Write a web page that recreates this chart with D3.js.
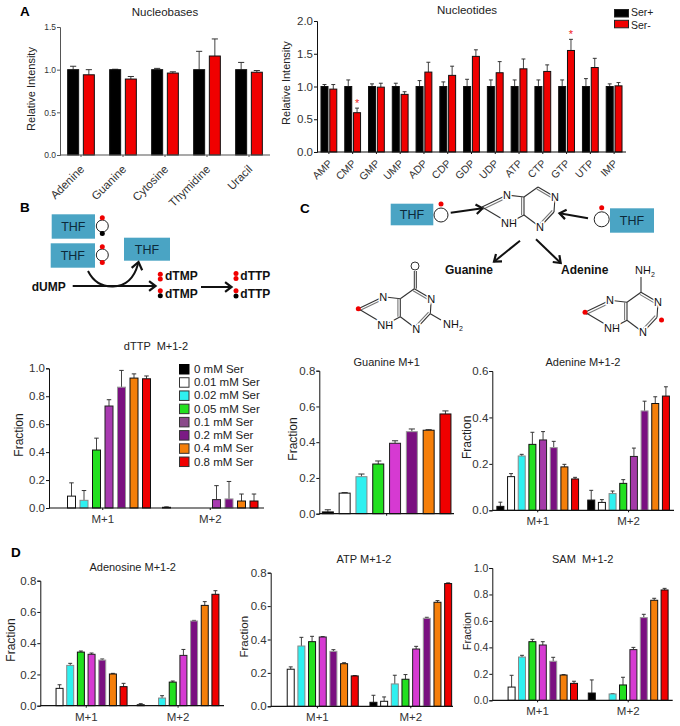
<!DOCTYPE html>
<html>
<head>
<meta charset="utf-8">
<script src="https://cdn.jsdelivr.net/npm/d3@7"></script>
<style>
  html, body { margin: 0; padding: 0; background: #fff; }
  text { font-family: "Liberation Sans", Arial, sans-serif; fill: #222; }
  .atom { paint-order: stroke; stroke: #fff; stroke-width: 3px; fill: #111; }
</style>
</head>
<body>
<script>
// panel A
const nucleobases = ['Adenine', 'Guanine', 'Cytosine', 'Thymidine', 'Uracil'];
const serStates = ['Ser+', 'Ser-'];
const baseValues = [[1.0, 0.94], [1.0, 0.89], [1.0, 0.96], [1.0, 1.16], [1.0, 0.97]];
const baseTops = [[1.04, 1.0], [1.005, 0.92], [1.015, 0.975], [1.215, 1.36], [1.085, 0.99]];

const nucleotides = ['AMP', 'CMP', 'GMP', 'UMP', 'ADP', 'CDP', 'GDP', 'UDP', 'ATP', 'CTP', 'GTP', 'UTP', 'IMP'];
const nucValues = [[1, .96], [1, .6], [1, .99], [1, .88], [1, 1.22], [1, 1.17], [1, 1.46], [1, 1.21], [1, 1.27], [1, 1.23], [1, 1.55], [1, 1.29], [1, 1.01]];
const nucTops = [[1.03, 1.03], [1.1, .67], [1.04, 1.05], [1.05, .92], [1.09, 1.37], [1.07, 1.31], [1.11, 1.56], [1.1, 1.38], [1.1, 1.42], [1.1, 1.33], [1.1, 1.72], [1.12, 1.43], [1.04, 1.06]];
const nucStars = ['CMP', 'GTP'];

// labelling panels
const doses = ['0 mM Ser', '0.01 mM Ser', '0.02 mM Ser', '0.05 mM Ser', '0.1 mM Ser', '0.2 mM Ser', '0.4 mM Ser', '0.8 mM Ser'];
const isotopes = ['M+1', 'M+2'];

const dttpValues = [[0, .085, .055, .415, .73, .865, .93, .925], [.005, 0, 0, 0, .06, .065, .05, .05]];
const dttpTops = [[0, .18, .125, .5, .775, .985, .96, .945], [.008, 0, 0, 0, .16, .19, .1, .1]];

const guanineValues = [[.01, .115, .207, .278, .394, .459, .467, .558]];
const guanineTops = [[.022, .118, .222, .295, .408, .474, .47, .575]];

const adenineValues = [[.017, .145, .234, .284, .303, .27, .187, .135], [.044, .034, .072, .116, .232, .428, .46, .492]];
const adenineTops = [[.035, .158, .241, .336, .339, .297, .198, .142], [.086, .046, .083, .132, .268, .47, .489, .532]];

const adenosineValues = [[0, .111, .258, .343, .329, .292, .203, .122], [.006, 0, .049, .151, .322, .542, .642, .713]];
const adenosineTops = [[0, .134, .271, .35, .337, .299, .207, .143], [.013, 0, .064, .158, .36, .546, .666, .736]];

const atpValues = [[0, .222, .361, .387, .415, .329, .255, .182], [.024, .03, .134, .162, .343, .527, .623, .735]];
const atpTops = [[0, .236, .413, .419, .417, .339, .261, .184], [.066, .056, .186, .19, .359, .533, .633, .739]];

const samValues = [[0, .1, .327, .443, .418, .295, .191, .128], [.055, 0, .048, .116, .383, .625, .756, .834]];
const samTops = [[0, .189, .34, .461, .443, .325, .194, .144], [.154, 0, .05, .174, .4, .65, .771, .846]];

const serColors = ['#000', '#f00000'];
const legendColors = ['#000', '#fff', '#2ff0f0', '#22e01f', '#8a4a8a', '#7b1a85', '#f57f0a', '#f00000'];
const doseColors = m => ['#000', '#fff', '#2ff0f0', '#22e01f', m, '#7a1080', '#f57f0a', '#f00000'];
const doseStrokes = ['#111', '#111', '#888', '#111', '#222', '#999', '#111', '#111'];

const svg = d3.select('body').append('svg').attr('width', 680).attr('height', 726).style('display', 'block');

function label (txt, x, y, size, opts = {}) {
    const t = svg.append('text').attr('x', x).attr('y', y).style('font-size', `${size}px`)
        .style('text-anchor', opts.anchor || 'start').style('font-weight', opts.bold ? 'bold' : null)
        .style('white-space', 'pre').text(txt);
    if (opts.rotate) t.attr('transform', `rotate(${opts.rotate},${x},${y})`);
    if (opts.fill) t.style('fill', opts.fill);
    return t;
}

// every bar panel goes through here
function barChart (c) {
    const g = svg.append('g');
    const xEnd = c.xEnd || c.right;
    const x0 = d3.scaleBand().domain(c.groups).range([c.left, xEnd]);
    const n = c.series.length;
    const pad = 1 - c.barW / c.step;
    const x1 = d3.scaleBand().domain(c.series).range([0, c.step * n]).paddingInner(pad).paddingOuter(pad / 2);
    const shift = (x0.bandwidth() - c.step * n) / 2;
    const y = d3.scaleLinear().domain([0, c.max]).range([c.bottom, c.top]);

    c.groups.forEach((grp, gi) => {
        const gx = x0(grp) + shift;
        c.series.forEach((s, si) => {
            const v = c.values[gi][si], top = c.tops[gi][si];
            if (!v) return;
            const cx = gx + x1(s) + x1.bandwidth() / 2;
            g.append('line').attr('x1', cx).attr('x2', cx).attr('y1', y(v)).attr('y2', y(top))
                .attr('stroke', '#444').attr('stroke-width', 1);
            g.append('line').attr('x1', cx - c.barW * .28).attr('x2', cx + c.barW * .28).attr('y1', y(top)).attr('y2', y(top))
                .attr('stroke', '#333').attr('stroke-width', 1);
            g.append('rect').attr('x', gx + x1(s)).attr('y', y(v))
                .attr('width', x1.bandwidth()).attr('height', y(0) - y(v))
                .attr('fill', c.colors[si]).attr('stroke', c.strokes[si]).attr('stroke-width', 1);
        });
    });

    const yAxis = d3.axisLeft(y).tickValues(d3.range(0, c.max + 1e-6, c.tickStep)).tickFormat(d3.format('.1f')).tickSize(3).tickPadding(1);
    const ya = g.append('g').attr('transform', `translate(${c.left},0)`).call(yAxis);
    ya.selectAll('text').style('font-size', `${c.tickSize}px`).style('fill', '#333');
    ya.selectAll('line,path').attr('stroke', c.axisColor || '#111');

    const xa = g.append('g').attr('transform', `translate(0,${c.bottom})`)
        .call(d3.axisBottom(x0).tickSize(2).tickSizeOuter(0).tickPadding(5));
    xa.select('.domain').attr('d', `M${c.left},0H${c.right}`).attr('stroke', c.axisColor || '#111').attr('stroke-width', 1.2);
    xa.selectAll('line').attr('stroke', c.axisColor || '#111');
    xa.selectAll('text').style('font-size', `${c.catSize}px`).style('fill', '#333');
    if (c.rotate) {
        xa.selectAll('text').attr('x', 0).attr('y', 0).attr('dy', 0)
            .attr('transform', `translate(4,${c.rotate}) rotate(-45)`).style('text-anchor', 'end');
    }
    if (c.hideCats) xa.selectAll('text').remove();

    label(c.title, c.titleX, c.titleY, c.titleSize || 11, { anchor: 'middle' });
    label(c.yLabel, c.yLabelX, c.yLabelY, c.yLabelSize || 12, { anchor: 'middle', rotate: -90 });
    return { x0, x1, y, shift };
}

barChart({
    groups: nucleobases, series: serStates, values: baseValues, tops: baseTops,
    colors: serColors, strokes: ['#111', '#111'], left: 60, right: 270, top: 27, bottom: 155, max: 1.5, tickStep: .5,
    step: 15.7, barW: 11, tickSize: 8.5, catSize: 11.5, rotate: 15, axisColor: '#555',
    title: 'Nucleobases', titleX: 165, titleY: 16, titleSize: 11.5, yLabel: 'Relative Intensity', yLabelX: 35, yLabelY: 89, yLabelSize: 11
});

const nucChart = barChart({
    groups: nucleotides, series: serStates, values: nucValues, tops: nucTops,
    colors: serColors, strokes: ['#111', '#111'], left: 317, right: 626, top: 21, bottom: 152, max: 2, tickStep: .5,
    step: 8.8, barW: 7, tickSize: 11.5, catSize: 10.5, rotate: 12,
    title: 'Nucleotides', titleX: 467, titleY: 14, titleSize: 11.5, yLabel: 'Relative Intensity', yLabelX: 290, yLabelY: 83, yLabelSize: 11
});

nucStars.forEach(name => {
    const i = nucleotides.indexOf(name);
    const cx = nucChart.x0(name) + nucChart.shift + nucChart.x1('Ser-') + nucChart.x1.bandwidth() / 2;
    label('*', cx, nucChart.y(nucTops[i][1]) - 1, 11, { anchor: 'middle', fill: '#f02020' });
});

serStates.forEach((s, i) => {
    svg.append('rect').attr('x', 614.5).attr('y', 9.5 + i * 10.8).attr('width', 14).attr('height', 7.5)
        .attr('fill', serColors[i]).attr('stroke', '#222').attr('stroke-width', 1);
    label(s, 631, 15.5 + i * 13.5, 10.5);
});

barChart({
    groups: isotopes, series: doses, values: dttpValues, tops: dttpTops,
    colors: doseColors('#a83ab0'), strokes: doseStrokes, left: 49, right: 264, top: 368.3, bottom: 508, max: 1, tickStep: .2,
    step: 12.5, barW: 8, tickSize: 11.5, catSize: 11.5,
    title: 'dTTP  M+1-2', titleX: 156, titleY: 350, yLabel: 'Fraction', yLabelX: 23, yLabelY: 435
});

doses.forEach((d, i) => {
    svg.append('rect').attr('x', 179.5).attr('y', 364.5 + i * 13.22).attr('width', 9.5).attr('height', 9.5)
        .attr('fill', legendColors[i]).attr('stroke', i === 0 ? '#000' : '#333').attr('stroke-width', 1);
    label(d, 194, 373 + i * 13.22, 11.5);
});

barChart({
    groups: ['M+1'], series: doses, values: guanineValues, tops: guanineTops,
    colors: doseColors('#d63ad2'), strokes: doseStrokes, left: 319.3, right: 454, top: 370.7, bottom: 513.7, max: .8, tickStep: .2,
    step: 16.8, barW: 11, tickSize: 11.5, catSize: 11.5, hideCats: true,
    title: 'Guanine M+1', titleX: 386.7, titleY: 365.7, yLabel: 'Fraction', yLabelX: 296.7, yLabelY: 439
});

barChart({
    groups: isotopes, series: doses, values: adenineValues, tops: adenineTops,
    colors: doseColors('#a43aa8'), strokes: doseStrokes, left: 492.3, right: 674, top: 371, bottom: 510.3, max: .6, tickStep: .2,
    step: 10.67, barW: 7, tickSize: 11.5, catSize: 11.5,
    title: 'Adenine M+1-2', titleX: 583, titleY: 365.7, yLabel: 'Fraction', yLabelX: 470.7, yLabelY: 437.3
});

barChart({
    groups: isotopes, series: doses, values: adenosineValues, tops: adenosineTops,
    colors: doseColors('#d63ad2'), strokes: doseStrokes, left: 40.3, right: 224, top: 580.7, bottom: 705.7, max: .8, tickStep: .2,
    step: 10.67, barW: 7, tickSize: 11.5, catSize: 11.5,
    title: 'Adenosine M+1-2', titleX: 132.7, titleY: 570.7, yLabel: 'Fraction', yLabelX: 15, yLabelY: 640
});

barChart({
    groups: isotopes, series: doses, values: atpValues, tops: atpTops,
    colors: doseColors('#d63ad2'), strokes: doseStrokes, left: 270.7, right: 453, xEnd: 457.5, top: 572.7, bottom: 706.3, max: .8, tickStep: .2,
    step: 10.67, barW: 7, tickSize: 11.5, catSize: 11.5,
    title: 'ATP M+1-2', titleX: 364, titleY: 563, yLabel: 'Fraction', yLabelX: 248, yLabelY: 636.7, yLabelSize: 11.5
});

barChart({
    groups: isotopes, series: doses, values: samValues, tops: samTops,
    colors: doseColors('#d63ad2'), strokes: doseStrokes, left: 492.3, right: 672.7, xEnd: 673.5, top: 568, bottom: 700.3, max: 1, tickStep: .2,
    step: 10.4, barW: 7, tickSize: 10.5, catSize: 11.5,
    title: 'SAM  M+1-2', titleX: 582.7, titleY: 563, yLabel: 'Fraction', yLabelX: 470.7, yLabelY: 631, yLabelSize: 10.5
});

// panel letters
label('A', 20, 16, 13.5, { bold: true, fill: '#000' });
label('B', 20, 212, 13.5, { bold: true, fill: '#000' });
label('C', 300, 212.5, 13.5, { bold: true, fill: '#000' });
label('D', 11, 556.5, 13.5, { bold: true, fill: '#000' });

// schematics, hand placed
function thfBox (x, y, w, h) {
    svg.append('rect').attr('x', x).attr('y', y).attr('width', w).attr('height', h).attr('fill', '#4aa4c4');
    label('THF', x + w / 2, y + h / 2 + 4.5, 12.5, { anchor: 'middle', fill: '#0c2a3a' });
}
function ring (cx, cy, r, dots) {
    svg.append('circle').attr('cx', cx).attr('cy', cy).attr('r', r).attr('fill', '#fff').attr('stroke', '#222').attr('stroke-width', 1);
    dots.forEach(d => svg.append('circle').attr('cx', cx).attr('cy', d[0]).attr('r', 2.5).attr('fill', d[1]));
}
function dot (x, y, col) {
    svg.append('circle').attr('cx', x).attr('cy', y).attr('r', 2.5).attr('fill', col);
}
function arrow (x1, y1, x2, y2) {
    const a = Math.atan2(y2 - y1, x2 - x1), s = 8;
    svg.append('line').attr('x1', x1).attr('y1', y1).attr('x2', x2).attr('y2', y2).attr('stroke', '#111').attr('stroke-width', 2);
    head(x2, y2, a, s);
}
function head (x, y, a, s) {
    const p = [[x + s * Math.cos(a + 2.5), y + s * Math.sin(a + 2.5)], [x, y], [x + s * Math.cos(a - 2.5), y + s * Math.sin(a - 2.5)]];
    svg.append('path').attr('d', d3.line()(p)).attr('fill', 'none').attr('stroke', '#111').attr('stroke-width', 2.2);
}

thfBox(51.7, 214.3, 43.3, 24.4);
ring(102.3, 226, 6, [[217.7, '#f00000'], [233.5, '#000']]);
thfBox(50.7, 243.3, 44.3, 24.4);
ring(102.3, 255, 6, [[246.7, '#f00000'], [262.5, '#f00000']]);
thfBox(124, 237.7, 46, 23);

svg.append('path').attr('d', 'M88,271 Q96,287 113,286.5 Q132,286 138,264').attr('fill', 'none').attr('stroke', '#111').attr('stroke-width', 2);
head(138.5, 262, -1.35, 9);
label('dUMP', 31.7, 290.5, 12, { bold: true, fill: '#111' });
arrow(72.7, 286, 155.5, 286);
arrow(201, 287, 231.5, 287);
[[160.3, 165, 280, 274.3, 279, '#f00000', 'dTMP'], [160.3, 165, 297.5, 290.7, 295.7, '#000', 'dTMP'],
 [236, 240.3, 280, 273.5, 278.5, '#f00000', 'dTTP'], [236, 240.3, 297.5, 290.7, 296, '#000', 'dTTP']].forEach(r => {
    dot(r[0], r[3], '#f00000');
    dot(r[0], r[4], r[5]);
    label(r[6], r[1], r[2], 12, { bold: true, fill: '#111' });
});

thfBox(390.7, 203.7, 42.6, 21.6);
ring(441, 215, 7, [[204, '#f00000']]);
thfBox(610, 208.3, 44, 24.4);
ring(601.7, 219.3, 7.5, [[207.7, '#f00000']]);
arrow(450.7, 212.7, 482.5, 208.3);
arrow(588, 218.3, 559.5, 213.3);
arrow(520, 240.7, 494, 261.7);
arrow(536, 239.3, 560.7, 263);
label('Guanine', 445, 274, 12, { bold: true, fill: '#111' });
label('Adenine', 561, 274, 12, { bold: true, fill: '#111' });

function purine (ox, oy) {
    const a = { c8: [0, 0], n7: [25, -12], c5: [42, -10], c4: [42, 8], n9: [27, 16], n3: [58, 20], c2: [72, 5], n1: [73, -10], c6: [56, -20] };
    const bond = (p, q, dbl) => {
        const x1 = ox + a[p][0], y1 = oy + a[p][1], x2 = ox + a[q][0], y2 = oy + a[q][1];
        svg.append('line').attr('x1', x1).attr('y1', y1).attr('x2', x2).attr('y2', y2).attr('stroke', '#333').attr('stroke-width', 1.1);
        if (dbl) {
            const l = Math.hypot(x2 - x1, y2 - y1), nx = -(y2 - y1) / l * 2.4, ny = (x2 - x1) / l * 2.4;
            svg.append('line').attr('x1', x1 + nx).attr('y1', y1 + ny).attr('x2', x2 + nx).attr('y2', y2 + ny).attr('stroke', '#777').attr('stroke-width', 1.1);
        }
    };
    bond('c8', 'n7', true); bond('n7', 'c5'); bond('c5', 'c4', true); bond('c4', 'n9'); bond('n9', 'c8');
    bond('c5', 'c6'); bond('c6', 'n1', true); bond('n1', 'c2'); bond('c2', 'n3', true); bond('n3', 'c4');
    [['N', 'n7'], ['NH', 'n9'], ['N', 'n3'], ['N', 'n1']].forEach(([t, k]) => {
        label(t, ox + a[k][0], oy + a[k][1] + 4, 11, { anchor: 'middle' }).attr('class', 'atom');
    });
}
function nh2 (x, y) {
    const t = label('NH', x, y, 11, { anchor: 'start' }).attr('class', 'atom');
    t.append('tspan').attr('dy', 2.5).style('font-size', '7px').text('2');
}

purine(482, 207);
purine(358.3, 308.7);
svg.append('line').attr('x1', 414.3).attr('y1', 288.7).attr('x2', 414.3).attr('y2', 271).attr('stroke', '#333').attr('stroke-width', 1);
svg.append('line').attr('x1', 416.3).attr('y1', 288.7).attr('x2', 416.3).attr('y2', 271).attr('stroke', '#333').attr('stroke-width', 1);
svg.append('circle').attr('cx', 415).attr('cy', 266).attr('r', 4).attr('fill', '#fff').attr('stroke', '#333').attr('stroke-width', 1);
svg.append('line').attr('x1', 430.3).attr('y1', 313.7).attr('x2', 441).attr('y2', 320).attr('stroke', '#333').attr('stroke-width', 1.1);
nh2(443, 328);
dot(358.3, 308.7, '#f00000');

purine(585, 312.3);
svg.append('line').attr('x1', 641).attr('y1', 292).attr('x2', 641).attr('y2', 277).attr('stroke', '#333').attr('stroke-width', 1.1);
nh2(635, 274);
dot(585, 312.3, '#f00000');
dot(661.5, 320, '#f00000');
</script>
</body>
</html>
